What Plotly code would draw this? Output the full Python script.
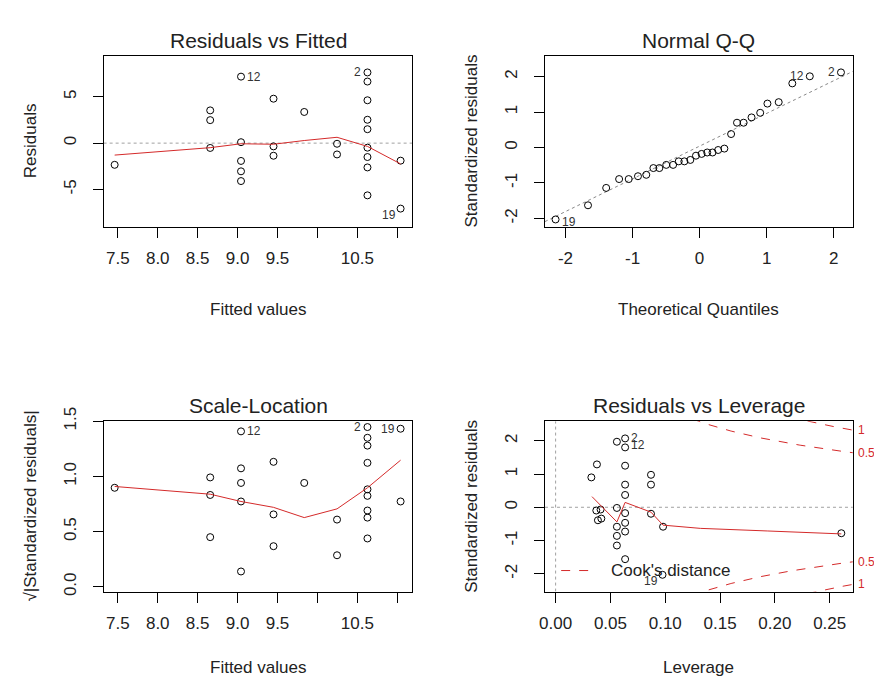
import numpy as np
import plotly.graph_objects as go

# ---------------- data ----------------
# Residuals vs Fitted
rvf_fitted = [7.46, 8.657, 8.657, 8.657, 9.043, 9.043, 9.043, 9.043, 9.043,
              9.45, 9.45, 9.45, 9.835, 10.246, 10.246,
              10.627, 10.627, 10.627, 10.627, 10.627, 10.627, 10.627, 10.627, 10.627,
              11.042, 11.042]
rvf_resid = [-2.34, 3.53, 2.48, -0.52, 7.17, 0.10, -1.92, -3.04, -4.09,
             4.79, -0.35, -1.36, 3.36, -0.07, -1.22,
             7.62, 6.64, 4.62, 2.52, 1.50, -0.49, -1.50, -2.62, -5.63,
             -1.89, -7.06]
rvf_smooth_x = [7.46, 8.657, 9.043, 9.45, 9.835, 10.246, 10.627, 11.042]
rvf_smooth_y = [-1.29, -0.49, -0.07, -0.12, 0.28, 0.63, -0.35, -2.24]
rvf_ids = [("12", 9.043, 7.17, "right"), ("2", 10.627, 7.62, "left"), ("19", 11.042, -7.06, "leftdown")]

# Normal Q-Q
qq_theo = [-2.148, -1.664, -1.393, -1.200, -1.057, -0.919, -0.795, -0.689, -0.600, -0.497,
           -0.395, -0.311, -0.227, -0.138, -0.054, 0.030, 0.114, 0.193, 0.277, 0.370,
           0.470, 0.558, 0.657, 0.775, 0.904, 1.012, 1.180, 1.383, 1.644, 2.109]
qq_std = [-2.03, -1.63, -1.14, -0.89, -0.89, -0.81, -0.77, -0.58, -0.58, -0.49,
          -0.49, -0.39, -0.39, -0.35, -0.23, -0.18, -0.14, -0.14, -0.07, -0.03,
          0.38, 0.70, 0.70, 0.85, 0.98, 1.24, 1.28, 1.81, 2.01, 2.12]
qq_line_intercept = 0.039
qq_line_slope = 0.923
qq_ids = [("19", -2.148, -2.03, "rightdown"), ("12", 1.644, 2.01, "left"), ("2", 2.109, 2.12, "left")]

# Scale-Location
sl_fitted = rvf_fitted
sl_value = [0.897, 0.991, 0.832, 0.450, 1.408, 1.073, 0.941, 0.773, 0.139,
            1.132, 0.656, 0.368, 0.941, 0.609, 0.286,
            1.447, 1.350, 1.279, 1.123, 0.883, 0.824, 0.691, 0.627, 0.438,
            1.432, 0.773]
sl_smooth_x = rvf_smooth_x
sl_smooth_y = [0.909, 0.839, 0.773, 0.720, 0.627, 0.706, 0.897, 1.147]
sl_ids = [("12", 9.043, 1.408, "right"), ("2", 10.627, 1.447, "left"), ("19", 11.042, 1.432, "left")]

# Residuals vs Leverage
lev_h = [0.0326, 0.0377, 0.0371, 0.0386, 0.0410, 0.0417,
         0.0559, 0.0559, 0.0559, 0.0559, 0.0559,
         0.0634, 0.0634, 0.0634, 0.0634, 0.0634, 0.0634, 0.0634, 0.0634, 0.0634,
         0.087, 0.087, 0.087, 0.098, 0.0975, 0.2606]
lev_r = [0.898, 1.288, -0.098, -0.39, -0.068, -0.34,
         1.97, -0.02, -0.585, -0.86, -1.15,
         2.07, 1.80, 1.25, 0.68, 0.37, -0.176, -0.468, -0.73, -1.56,
         0.976, 0.68, -0.195, -0.585, -2.03, -0.78]
lev_smooth_x = [0.0332, 0.0559, 0.0634, 0.087, 0.098, 0.132, 0.193, 0.2606]
lev_smooth_y = [0.32, -0.44, 0.146, -0.146, -0.537, -0.634, -0.712, -0.80]
lev_ids = [("2", 0.0634, 2.07, "right"), ("12", 0.0634, 1.86, "right"), ("19", 0.0975, -2.03, "leftdown")]
n_params = 2
cook_levels = [0.5, 1.0]

# tick labels
fit_ticks = [7.5, 8.0, 8.5, 9.0, 9.5, 10.0, 10.5, 11.0]
fit_ticktext = ["7.5", "8.0", "8.5", "9.0", "9.5", "", "10.5", ""]
rvf_yticks = [-5, 0, 5]
qq_ticks = [-2, -1, 0, 1, 2]
sl_yticks = [0.0, 0.5, 1.0, 1.5]
lev_xticks = [0.00, 0.05, 0.10, 0.15, 0.20, 0.25]

# ---------------- layout geometry (pixels) ----------------
W, H = 874, 679
FONT = "Liberation Sans, Arial, sans-serif"
TXT = "#222222"
RED = "#d42a2a"
GRAY = "#a0a0a0"

def pxx(p):
    return p / W

def pxy(p):
    return 1 - p / H

colL = (98.3, 409.3)
colR = (542.7, 852.7)
rowT = (42.7, 218.3)
rowB = (418.3, 593.3)

ranges = {
    1: ([7.322, 11.191], [-8.99, 9.44]),
    2: ([-2.306, 2.286], [-2.229, 2.595]),
    3: ([7.322, 11.191], [-0.043, 1.50]),
    4: ([-0.0097, 0.2711], [-2.534, 2.587]),
}
boxes = {1: (colL, rowT), 2: (colR, rowT), 3: (colL, rowB), 4: (colR, rowB)}

fig = go.Figure()

def marker_trace(x, y, k):
    sx = "" if k == 1 else str(k)
    fig.add_trace(go.Scatter(x=x, y=y, mode="markers", xaxis="x" + sx, yaxis="y" + sx,
                             marker=dict(symbol="circle-open", size=7, color="black",
                                         line=dict(width=1, color="black")),
                             showlegend=False, hoverinfo="skip", cliponaxis=False))

def line_trace(x, y, k, color, dash="solid", width=1):
    sx = "" if k == 1 else str(k)
    fig.add_trace(go.Scatter(x=x, y=y, mode="lines", xaxis="x" + sx, yaxis="y" + sx,
                             line=dict(color=color, dash=dash, width=width),
                             showlegend=False, hoverinfo="skip"))

# Panel 1
line_trace(ranges[1][0], [0, 0], 1, GRAY, "dot")
marker_trace(rvf_fitted, rvf_resid, 1)
line_trace(rvf_smooth_x, rvf_smooth_y, 1, RED)

# Panel 2
qx = ranges[2][0]
line_trace(qx, [qq_line_intercept + qq_line_slope * v for v in qx], 2, "#888888", "dot")
marker_trace(qq_theo, qq_std, 2)

# Panel 3
marker_trace(sl_fitted, sl_value, 3)
line_trace(sl_smooth_x, sl_smooth_y, 3, RED)

# Panel 4
line_trace(ranges[4][0], [0, 0], 4, GRAY, "dot")
line_trace([0, 0], ranges[4][1], 4, GRAY, "dot")
marker_trace(lev_h, lev_r, 4)
line_trace(lev_smooth_x, lev_smooth_y, 4, RED)
hh = np.linspace(0.005, ranges[4][0][1], 300)
for lvl in cook_levels:
    cy = np.sqrt(lvl * n_params * (1 - hh) / hh)
    line_trace(hh, cy, 4, RED, "dash")
    line_trace(hh, -cy, 4, RED, "dash")

# axes
def axis_common():
    return dict(showline=True, mirror=True, linecolor="black", linewidth=1,
                showgrid=False, zeroline=False, ticks="outside", ticklen=10,
                tickwidth=1, tickcolor="black",
                tickfont=dict(family=FONT, size=17, color=TXT))

xt = {1: (fit_ticks, fit_ticktext), 2: (qq_ticks, ["-2", "-1", "0", "1", "2"]),
      3: (fit_ticks, fit_ticktext),
      4: (lev_xticks, ["0.00", "0.05", "0.10", "0.15", "0.20", "0.25"])}
yt = {1: (rvf_yticks, ["-5", "0", "5"]), 2: (qq_ticks, ["-2", "-1", "0", "1", "2"]),
      3: (sl_yticks, ["0.0", "0.5", "1.0", "1.5"]), 4: (qq_ticks, ["-2", "-1", "0", "1", "2"])}

layout_axes = {}
for k in range(1, 5):
    (cx, cy) = boxes[k]
    sx = "" if k == 1 else str(k)
    xa = axis_common()
    xa.update(domain=[pxx(cx[0]), pxx(cx[1])], range=ranges[k][0], anchor="y" + sx,
              tickmode="array", tickvals=xt[k][0], ticktext=xt[k][1], ticklabelstandoff=6)
    ya = axis_common()
    ya.update(domain=[pxy(cy[1]), pxy(cy[0])], range=ranges[k][1], anchor="x" + sx,
              tickmode="array", tickvals=yt[k][0], ticktext=yt[k][1], tickangle=-90,
              ticklabelstandoff=10)
    layout_axes["xaxis" + sx] = xa
    layout_axes["yaxis" + sx] = ya

ann = []
def txt(x, y, s, size, color=TXT, angle=0, xanchor="center", xref="paper", yref="paper",
        xshift=0, yshift=0):
    ann.append(dict(x=x, y=y, text=s, showarrow=False, xref=xref, yref=yref,
                    xanchor=xanchor, yanchor="middle", textangle=angle,
                    xshift=xshift, yshift=yshift,
                    font=dict(family=FONT, size=size, color=color)))

titles = {1: "Residuals vs Fitted", 2: "Normal Q-Q", 3: "Scale-Location", 4: "Residuals vs Leverage"}
xlabels = {1: "Fitted values", 2: "Theoretical Quantiles", 3: "Fitted values", 4: "Leverage"}
ylabels = {1: "Residuals", 2: "Standardized residuals", 3: "√|Standardized residuals|",
           4: "Standardized residuals"}
title_y = {1: 27, 2: 27, 3: 402, 4: 402}
xlab_y = {1: 304, 2: 304, 3: 671, 4: 671}
for k in range(1, 5):
    (cx, cy) = boxes[k]
    mid_x = (cx[0] + cx[1]) / 2
    mid_y = (cy[0] + cy[1]) / 2
    txt(pxx(mid_x), pxy(title_y[k]), titles[k], 21)
    txt(pxx(mid_x), pxy(xlab_y[k]), xlabels[k], 17)
    txt(pxx(cx[0] - 74), pxy(mid_y), ylabels[k], 17, angle=-90)

def ids(lst, k):
    sx = "" if k == 1 else str(k)
    for (s, x, y, side) in lst:
        if side == "right":
            txt(x, y, s, 12, color="#333333", xanchor="left", xref="x" + sx, yref="y" + sx, xshift=4)
        elif side == "rightdown":
            txt(x, y, s, 12, color="#333333", xanchor="left", xref="x" + sx, yref="y" + sx,
                xshift=4, yshift=-3)
        elif side == "left":
            txt(x, y, s, 12, color="#333333", xanchor="right", xref="x" + sx, yref="y" + sx, xshift=-4)
        else:
            txt(x, y, s, 12, color="#333333", xanchor="right", xref="x" + sx, yref="y" + sx,
                xshift=-3, yshift=-6)

ids(rvf_ids, 1)
ids(qq_ids, 2)
ids(sl_ids, 3)
ids(lev_ids, 4)

# Cook's distance labels on the right of panel 4
xmax = ranges[4][0][1]
ymult = np.sqrt(n_params * (1 - xmax) / xmax)
for lvl in cook_levels:
    aty = float(np.sqrt(lvl) * ymult)
    for sgn in (1, -1):
        txt(1, sgn * aty, ("%g" % lvl), 12, color=RED, xanchor="left",
            xref="x4 domain", yref="y4", xshift=3)

# legend "Cook's distance"
shapes = [dict(type="line", xref="paper", yref="paper", x0=pxx(559), x1=pxx(588),
               y0=pxy(571.7), y1=pxy(571.7), line=dict(color=RED, width=1, dash="dash"))]
txt(pxx(607), pxy(571.7), "Cook's distance", 17, xanchor="left")

fig.update_layout(width=W, height=H, margin=dict(l=0, r=0, t=0, b=0),
                  paper_bgcolor="white", plot_bgcolor="white",
                  annotations=ann, shapes=shapes, showlegend=False,
                  font=dict(family=FONT, color=TXT), **layout_axes)

fig.write_html("out.html")
